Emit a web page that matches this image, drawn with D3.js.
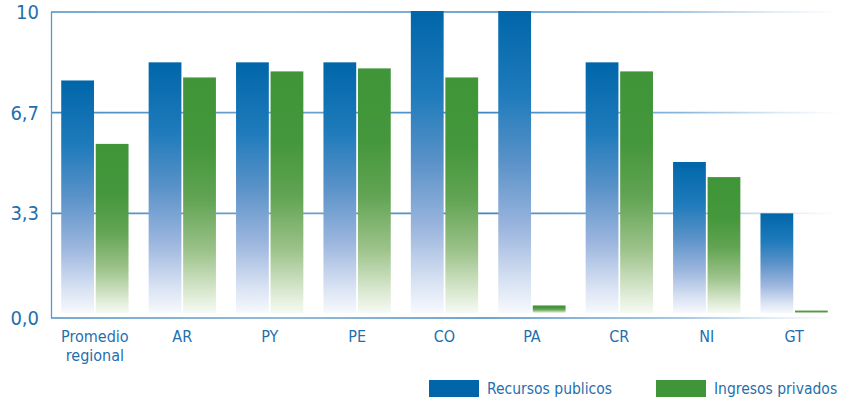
<!DOCTYPE html>
<html>
<head>
<meta charset="utf-8">
<script src="https://cdn.jsdelivr.net/npm/d3@7"></script>
<style>
  body { margin: 0; background: #fff; }
  svg text { font-family: "Liberation Sans Narrow", "DejaVu Sans Condensed", "Roboto", sans-serif; fill: #1f6fae; }
</style>
</head>
<body>
<div id="chart"></div>
<script>
// data
var categories = ["Promedio regional", "AR", "PY", "PE", "CO", "PA", "CR", "NI", "GT"];
var series = ["Recursos publicos", "Ingresos privados"];
var publicos = [7.7, 8.3, 8.3, 8.3, 10.0, 10.0, 8.3, 5.0, 3.3];
var privados = [5.6, 7.8, 8.0, 8.1, 7.8, 0.25, 8.0, 4.5, 0.08];
var tickValues = [0, 10 / 3, 20 / 3, 10];
var tickLabels = ["0,0", "3,3", "6,7", "10"];

var width = 853, height = 401;
var svg = d3.select("#chart").append("svg")
    .attr("width", width)
    .attr("height", height);

var defs = svg.append("defs");
function barGrad(id, stops) {
  var g = defs.append("linearGradient").attr("id", id)
      .attr("x1", 0).attr("y1", 0).attr("x2", 0).attr("y2", 1);
  stops.forEach(function(s) {
    g.append("stop").attr("offset", s[0]).attr("stop-color", s[1]);
  });
}
barGrad("gBlue", [[0, "#0066a9"], [0.28, "#1f7bbb"], [0.5, "#5a92c8"], [0.72, "#9cb6de"], [0.9, "#d9e3f3"], [1, "#f7f9fd"]]);
barGrad("gGreen", [[0, "#3f9538"], [0.3, "#45973c"], [0.52, "#62a454"], [0.74, "#9dc38b"], [0.9, "#d6e6cc"], [1, "#f6faf3"]]);

var lg = defs.append("linearGradient").attr("id", "gLine")
    .attr("gradientUnits", "userSpaceOnUse")
    .attr("x1", 51).attr("x2", 840).attr("y1", 0).attr("y2", 0);
[[0, "#4a8cc2"], [0.3, "#6fa3cf"], [0.55, "#3f86c0"], [0.8, "#8ab6da"], [0.92, "#dce9f4"], [1, "#ffffff"]].forEach(function(s) {
  lg.append("stop").attr("offset", s[0]).attr("stop-color", s[1]);
});

var y = d3.scaleLinear().domain([0, 10]).range([313, 11]);
var x0 = d3.scaleBand().domain(categories).range([51, 838])
    .paddingInner(0.23).paddingOuter(0.117);
var x1 = d3.scaleBand().domain(series).range([0, x0.bandwidth()]).paddingInner(0.05);

// gridlines
svg.append("g").selectAll("line")
  .data(tickValues)
  .join("line")
    .attr("x1", 51).attr("x2", 840)
    .attr("y1", function(d) { return d === 0 ? y(d) + 5 : y(d) + 1; })
    .attr("y2", function(d) { return d === 0 ? y(d) + 5 : y(d) + 1; })
    .attr("stroke", "url(#gLine)")
    .attr("stroke-width", 1.6);

// left axis line
svg.append("line")
    .attr("x1", 51.5).attr("x2", 51.5)
    .attr("y1", y(10) + 1).attr("y2", y(0) + 5)
    .attr("stroke", "#5a98c9")
    .attr("stroke-width", 1.3);

// tick labels
svg.append("g").selectAll("text")
  .data(tickValues)
  .join("text")
    .attr("x", 39)
    .attr("y", function(d) { return d === 0 ? y(d) + 5 : y(d) + 1; })
    .attr("dy", "0.35em")
    .attr("text-anchor", "end")
    .style("font-size", "20px")
    .text(function(d, i) { return tickLabels[i]; });

// bars
var groups = svg.append("g").selectAll("g")
  .data(categories)
  .join("g")
    .attr("transform", function(d) { return "translate(" + x0(d) + ",0)"; });

groups.selectAll("rect")
  .data(function(d, i) {
    return [{ s: series[0], v: publicos[i] }, { s: series[1], v: privados[i] }];
  })
  .join("rect")
    .attr("x", function(d) { return x1(d.s); })
    .attr("width", x1.bandwidth())
    .attr("y", function(d) { return y(d.v); })
    .attr("height", function(d) { return y(0) - y(d.v); })
    .attr("fill", function(d) { return d.s === series[0] ? "url(#gBlue)" : "url(#gGreen)"; });

// category labels
var labels = svg.append("g").selectAll("text")
  .data(categories)
  .join("text")
    .attr("x", function(d) { return x0(d) + x0.bandwidth() / 2; })
    .attr("y", 342)
    .attr("text-anchor", "middle")
    .style("font-size", "16px");
labels.each(function(d) {
  var words = d.split(" ");
  var t = d3.select(this);
  words.forEach(function(w, i) {
    t.append("tspan")
      .attr("x", t.attr("x"))
      .attr("dy", i === 0 ? 0 : 19)
      .text(w);
  });
});

// legend
var legendX = [429, 656];
var legend = svg.append("g").selectAll("g")
  .data(series)
  .join("g")
    .attr("transform", function(d, i) { return "translate(" + legendX[i] + ",380)"; });
legend.append("rect")
    .attr("width", 50).attr("height", 17)
    .attr("fill", function(d, i) { return i === 0 ? "#0066a9" : "#3f9538"; });
legend.append("text")
    .attr("x", 58).attr("y", 9)
    .attr("dy", "0.35em")
    .style("font-size", "15.5px")
    .text(function(d) { return d; });
</script>
</body>
</html>
